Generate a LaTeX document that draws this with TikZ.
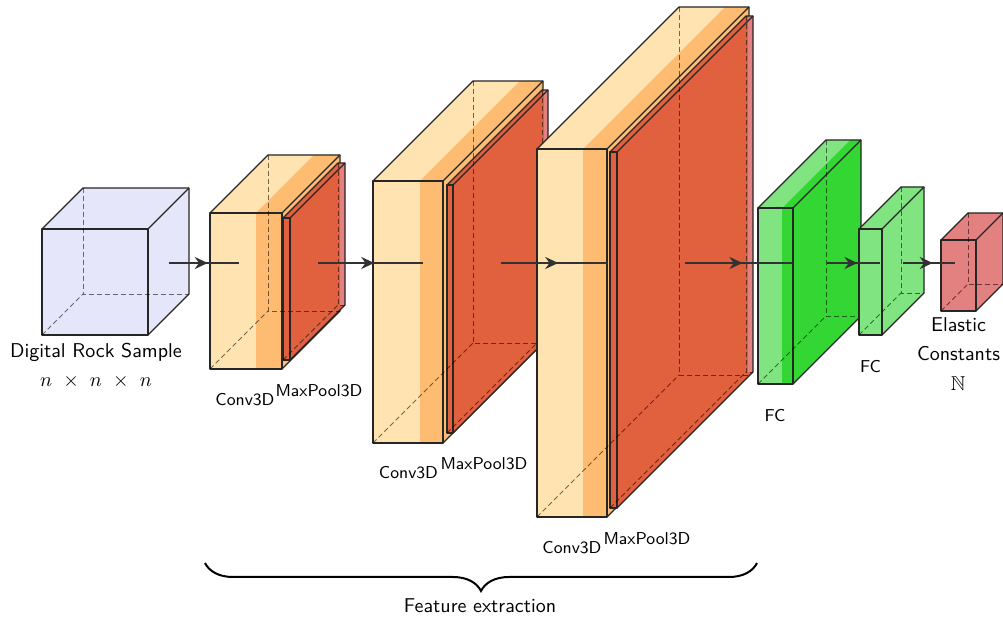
\documentclass[tikz,border=0pt]{standalone}
\usepackage{amssymb}
\usetikzlibrary{arrows.meta,decorations.markings,decorations.pathreplacing}
\definecolor{inblue}{RGB}{230,230,250}
\definecolor{convlight}{RGB}{255,228,177}
\definecolor{convdark}{RGB}{253,188,113}
\definecolor{poolred}{RGB}{225,96,62}
\definecolor{poolpink}{RGB}{228,128,128}
\definecolor{fclight}{RGB}{128,228,128}
\definecolor{fcdark}{RGB}{51,214,51}
\definecolor{outred}{RGB}{227,128,128}
\definecolor{edgegray}{RGB}{50,50,50}
\tikzset{
  edge/.style={draw=black!85, line width=0.7pt, line join=round},
  hidden/.style={draw=black, opacity=0.55, line width=0.45pt, dash pattern=on 2.5pt off 1.5pt},
  conn/.style={draw=edgegray, line width=1pt, postaction={decorate},
    decoration={markings, mark=at position 0.5 with {\arrow[xshift=2pt]{Stealth[length=6.5pt,width=6pt]}}}},
  lab/.style={font=\sffamily\fontsize{8.6}{10}\selectfont, anchor=base, inner sep=0pt},
  biglab/.style={font=\sffamily, anchor=base, inner sep=0pt},
  bracestyle/.style={draw=black, line width=1pt, decorate, decoration={brace, amplitude=14pt, mirror}}
}
% fills of a plain cube: x y w h d colour
\newcommand{\cubefill}[6]{%
  \fill[#6] (#1+#3,#2) -- ++(#5,-#5) -- ++(0,#4) -- ++(-#5,#5) -- cycle;
  \fill[#6] (#1,#2) -- ++(#5,-#5) -- ++(#3,0) -- ++(-#5,#5) -- cycle;
  \fill[#6] (#1,#2) rectangle ++(#3,#4);
}
% outline: x y w h d
\newcommand{\cubeedges}[5]{%
  \draw[edge] (#1,#2) rectangle ++(#3,#4);
  \draw[edge] (#1,#2) -- ++(#5,-#5) -- ++(#3,0) -- ++(0,#4) -- ++(-#5,#5);
  \draw[edge] (#1+#3,#2) -- ++(#5,-#5);
}
\newcommand{\plaincube}[6]{%
  \cubefill{#1}{#2}{#3}{#4}{#5}{#6}
  \cubeedges{#1}{#2}{#3}{#4}{#5}
}
% x y w h d band light dark side
\newcommand{\bandcube}[9]{%
  \fill[#9] (#1+#3,#2) -- ++(#5,-#5) -- ++(0,#4) -- ++(-#5,#5) -- cycle;
  \fill[#7] (#1,#2) -- ++(#5,-#5) -- ++(#6,0) -- ++(-#5,#5) -- cycle;
  \fill[#8] (#1+#6,#2) -- ++(#5,-#5) -- ++(#3-#6,0) -- ++(-#5,#5) -- cycle;
  \fill[#7] (#1,#2) rectangle ++(#6,#4);
  \fill[#8] (#1+#6,#2) rectangle ++(#3-#6,#4);
  \cubeedges{#1}{#2}{#3}{#4}{#5}
}
% x y w h d  (pool slab)
\newcommand{\poolslab}[5]{%
  \cubefill{#1}{#2}{#3}{#4}{#5}{poolred}
  \fill[poolpink] (#1+#5+0.25*#3,#2-#5) rectangle ++(0.75*#3,#4);
  \cubeedges{#1}{#2}{#3}{#4}{#5}
}
% hidden edges: x y w h d
\newcommand{\hiddenedges}[5]{%
  \draw[hidden] (#1+#5,#2-#5) -- ++(0,#4) -- ++(#3,0);
  \draw[hidden] (#1,#2+#4) -- ++(#5,-#5);
}
\begin{document}
\begin{tikzpicture}[x=0.5pt,y=-0.5pt]
\useasboundingbox (0,0) rectangle (1003,620);

% input
\plaincube{42}{229}{106}{106}{41}{inblue}
\hiddenedges{42}{229}{106}{106}{41}
% block 1
\bandcube{210}{213}{72}{156}{58}{46}{convlight}{convdark}{convdark}
\poolslab{283}{218}{7}{142}{55}
\hiddenedges{210}{213}{72}{156}{58}
\hiddenedges{283}{218}{7}{142}{55}
% block 2
\bandcube{373}{181}{70}{262}{100}{47}{convlight}{convdark}{convdark}
\poolslab{447}{185}{6}{248}{95}
\hiddenedges{373}{181}{70}{262}{100}
\hiddenedges{447}{185}{6}{248}{95}
% block 3
\bandcube{537}{149}{70}{368}{142}{46}{convlight}{convdark}{convdark}
\poolslab{610}{152}{7}{356}{136}
\hiddenedges{537}{149}{70}{368}{142}
\hiddenedges{610}{152}{7}{356}{136}
% FC 1
\bandcube{758}{208}{35}{176}{68}{24}{fclight}{fcdark}{fcdark}
\hiddenedges{758}{208}{35}{176}{68}
% FC 2
\plaincube{859}{229}{23}{106}{42}{fclight}
\hiddenedges{859}{229}{23}{106}{42}
% output
\plaincube{941}{240}{35}{71}{27}{outred}
\hiddenedges{941}{240}{35}{71}{27}

% anchors
\coordinate (in-e) at (168.5,263);
\coordinate (c1-w) at (239,263);
\coordinate (p1-e) at (317.5,263);
\coordinate (c2-w) at (423,263);
\coordinate (p2-e) at (500.5,263);
\coordinate (c3-w) at (608,263);
\coordinate (p3-e) at (685,263);
\coordinate (f1-w) at (792,263);
\coordinate (f1-e) at (827,263);
\coordinate (f2-w) at (880,263);
\coordinate (f2-e) at (903,263);
\coordinate (o-w) at (954.5,263);

\draw[conn] (in-e) -- (c1-w);
\draw[conn] (p1-e) -- (c2-w);
\draw[conn] (p2-e) -- (c3-w);
\draw[conn] (p3-e) -- (f1-w);
\draw[conn] (f1-e) -- (f2-w);
\draw[conn] (f2-e) -- (o-w);

% labels
\node[biglab] (inlab) at (96,358) {Digital Rock Sample};
\node[anchor=base, inner sep=0pt] (indim) at (96,387) {$n\ \times\ n\ \times\ n$};
\node[lab] (c1lab) at (245,406) {Conv3D};
\node[lab] (p1lab) at (319,397) {MaxPool3D};
\node[lab] (c2lab) at (408.5,479) {Conv3D};
\node[lab] (p2lab) at (484,470) {MaxPool3D};
\node[lab] (c3lab) at (572,554) {Conv3D};
\node[lab] (p3lab) at (647,545) {MaxPool3D};
\node[lab] (f1lab) at (775,422) {FC};
\node[lab] (f2lab) at (870.5,373) {FC};
\node[biglab] (outlab1) at (958.5,332) {Elastic};
\node[biglab] (outlab2) at (958.5,361) {Constants};
\node[anchor=base, inner sep=0pt] (outlab3) at (958,391) {$\mathbb{N}$};

% brace
\coordinate (brL) at (205,563);
\coordinate (brR) at (757,563);
\draw[bracestyle] (brL) -- (brR);
\node[biglab] (featlab) at (480,613) {Feature extraction};
\end{tikzpicture}
\end{document}
